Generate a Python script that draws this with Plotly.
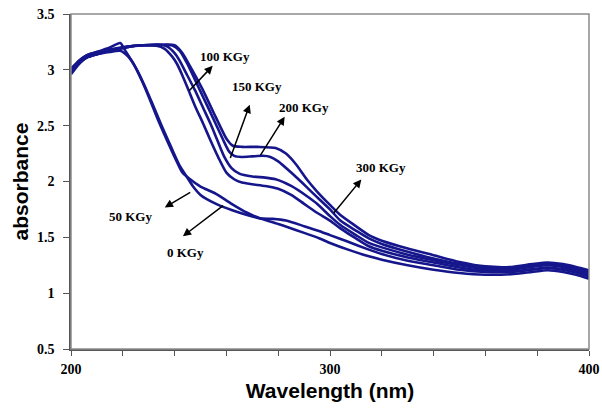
import plotly.graph_objects as go

# ---------------- data ----------------
wl_0 = [200, 203, 206, 210, 215, 219, 222, 225, 228, 231, 235, 239, 242, 244.5, 247, 250, 256, 262, 268, 273, 278, 283, 290, 296, 300, 307, 315, 320, 330, 340, 350, 360, 370, 378, 384, 390, 395, 400]
ab_0 = [2.98, 3.06, 3.11, 3.14, 3.16, 3.17, 3.12, 3.02, 2.88, 2.72, 2.50, 2.29, 2.14, 2.05, 1.96, 1.88, 1.80, 1.745, 1.70, 1.67, 1.665, 1.65, 1.60, 1.555, 1.52, 1.46, 1.39, 1.35, 1.29, 1.25, 1.21, 1.19, 1.19, 1.21, 1.225, 1.21, 1.185, 1.15]

wl_50 = [200, 203, 206, 210, 215, 219, 221, 224, 227, 230, 234, 238, 241, 243, 246, 250, 256, 262, 268, 273, 280, 290, 296, 300, 307, 315, 320, 330, 340, 350, 360, 370, 378, 384, 390, 395, 400]
ab_50 = [3.00, 3.08, 3.13, 3.16, 3.20, 3.24, 3.17, 3.06, 2.92, 2.76, 2.53, 2.32, 2.17, 2.08, 2.02, 1.955, 1.89, 1.80, 1.72, 1.67, 1.62, 1.54, 1.49, 1.45, 1.39, 1.33, 1.30, 1.25, 1.21, 1.18, 1.165, 1.17, 1.19, 1.205, 1.19, 1.165, 1.13]

wl_100 = [200, 203, 206, 210, 215, 219, 223, 228, 233, 236, 239, 241, 243, 245, 248, 251, 254, 257, 260, 263, 266, 270, 275, 280, 285, 290, 295, 300, 304, 310, 315, 320, 330, 340, 350, 360, 370, 378, 384, 390, 395, 400]
ab_100 = [2.96, 3.05, 3.11, 3.14, 3.17, 3.19, 3.21, 3.22, 3.215, 3.19, 3.12, 3.05, 2.95, 2.84, 2.67, 2.52, 2.36, 2.21, 2.08, 2.02, 1.99, 1.975, 1.96, 1.935, 1.88, 1.80, 1.72, 1.65, 1.58, 1.49, 1.42, 1.38, 1.32, 1.275, 1.23, 1.20, 1.195, 1.215, 1.23, 1.215, 1.195, 1.155]

wl_150 = [200, 203, 206, 210, 215, 219, 223, 228, 234, 237, 240, 242, 244, 247.8, 251, 254, 256.3, 259, 262, 265, 270, 275, 279, 285, 291, 295, 300, 304, 310, 315, 320, 330, 340, 350, 360, 370, 378, 384, 390, 395, 400]
ab_150 = [2.97, 3.06, 3.11, 3.14, 3.17, 3.19, 3.21, 3.22, 3.225, 3.21, 3.15, 3.08, 2.99, 2.82, 2.66, 2.51, 2.38, 2.23, 2.12, 2.07, 2.045, 2.035, 2.02, 1.96, 1.87, 1.80, 1.69, 1.61, 1.52, 1.45, 1.41, 1.345, 1.295, 1.25, 1.215, 1.21, 1.235, 1.25, 1.235, 1.21, 1.175]

wl_200 = [200, 203, 206, 210, 215, 219, 223, 228, 235, 239, 242, 245, 249.7, 254, 258.6, 261, 263, 266, 270, 274, 277, 280, 285, 291, 295, 300, 304, 310, 315, 320, 330, 340, 350, 360, 370, 378, 384, 390, 395, 400]
ab_200 = [2.99, 3.07, 3.12, 3.15, 3.18, 3.19, 3.21, 3.22, 3.225, 3.22, 3.17, 3.05, 2.82, 2.61, 2.38, 2.27, 2.23, 2.22, 2.225, 2.23, 2.22, 2.18, 2.08, 1.95, 1.86, 1.75, 1.65, 1.56, 1.49, 1.44, 1.37, 1.31, 1.26, 1.225, 1.22, 1.25, 1.26, 1.245, 1.22, 1.19]

wl_300 = [200, 203, 206, 210, 215, 219, 223, 228, 235, 240, 243, 246, 250.9, 255, 260.1, 262.5, 266, 272, 279, 283, 287, 291, 295, 300, 304, 310, 315, 320, 330, 340, 350, 360, 370, 378, 384, 390, 395, 400]
ab_300 = [3.01, 3.08, 3.13, 3.16, 3.18, 3.20, 3.21, 3.22, 3.225, 3.22, 3.15, 3.03, 2.82, 2.62, 2.38, 2.32, 2.31, 2.31, 2.30, 2.25, 2.15, 2.02, 1.91, 1.79, 1.70, 1.60, 1.52, 1.47, 1.40, 1.34, 1.28, 1.24, 1.235, 1.26, 1.275, 1.26, 1.235, 1.205]

series = [
    ("0 KGy", wl_0, ab_0),
    ("50 KGy", wl_50, ab_50),
    ("100 KGy", wl_100, ab_100),
    ("150 KGy", wl_150, ab_150),
    ("200 KGy", wl_200, ab_200),
    ("300 KGy", wl_300, ab_300),
]

x_ticks = [200, 300, 400]
y_ticks = [0.5, 1, 1.5, 2, 2.5, 3, 3.5]

# label text positions (data units) and arrows: (tail_x, tail_y) on curve -> (head_x, head_y)
label_names = ["100 KGy", "150 KGy", "200 KGy", "300 KGy", "50 KGy", "0 KGy"]
label_x = [259.3, 271.7, 290.0, 319.7, 223.1, 244.3]
label_y = [3.116, 2.85, 2.66, 2.125, 1.6875, 1.366]
arrow_tail_x = [245.1, 261.3, 272.8, 301.0, 246.6, 259.3]
arrow_tail_y = [2.80, 2.196, 2.223, 1.705, 1.911, 1.795]
arrow_head_x = [254.7, 269.0, 282.5, 312.1, 236.2, 243.2]
arrow_head_y = [3.036, 2.6875, 2.58, 2.018, 1.768, 1.509]

LINE_COLOR = "#16168c"
SERIF = "Liberation Serif"

fig = go.Figure()
for name, xs, ys in series:
    fig.add_trace(go.Scatter(
        x=xs, y=ys, mode="lines", name=name,
        line=dict(color=LINE_COLOR, width=2.6, shape="spline", smoothing=0.6),
        showlegend=False, hoverinfo="skip",
    ))

annotations = []
for tx, ty, hx, hy in zip(arrow_tail_x, arrow_tail_y, arrow_head_x, arrow_head_y):
    annotations.append(dict(
        x=hx, y=hy, ax=tx, ay=ty, xref="x", yref="y", axref="x", ayref="y",
        text="", showarrow=True, arrowhead=2, arrowsize=1.1, arrowwidth=1.5,
        arrowcolor="black", standoff=0, startstandoff=0,
    ))
for name, lx, ly in zip(label_names, label_x, label_y):
    annotations.append(dict(
        x=lx, y=ly, xref="x", yref="y", text=name, showarrow=False,
        font=dict(family=SERIF, size=13, color="black", weight="bold"),
    ))

fig.update_layout(
    width=602, height=409,
    margin=dict(l=71, r=13, t=14, b=60, autoexpand=False),
    paper_bgcolor="white", plot_bgcolor="white",
    annotations=annotations,
    shapes=[dict(type="rect", xref="paper", yref="paper", x0=0, y0=0, x1=1, y1=1,
                 line=dict(color="#8c8c8c", width=1.5), layer="above")],
    xaxis=dict(
        range=[200, 400], tickvals=x_ticks, ticktext=[str(v) for v in x_ticks],
        ticks="outside", ticklen=5, tickcolor="#555555", automargin=False,
        minor=dict(dtick=20, ticks="outside", ticklen=5, tickcolor="#555555"),
        showline=True, linecolor="#555555", linewidth=1.5, showgrid=False, zeroline=False,
        tickfont=dict(family=SERIF, size=14, color="black", weight="bold"),
        ticklabelstandoff=1,
        title=dict(text="Wavelength (nm)", standoff=8,
                   font=dict(family="Liberation Sans", size=21, color="black", weight="bold")),
    ),
    yaxis=dict(
        range=[0.5, 3.5], tickvals=y_ticks, ticktext=["0.5", "1", "1.5", "2", "2.5", "3", "3.5"],
        ticks="outside", ticklen=6, tickcolor="#555555", automargin=False,
        showline=True, linecolor="#555555", linewidth=1.5, showgrid=False, zeroline=False,
        tickfont=dict(family=SERIF, size=14, color="black", weight="bold"),
        ticklabelstandoff=6,
        title=dict(text="absorbance", standoff=3,
                   font=dict(family="Liberation Sans", size=21, color="black", weight="bold")),
    ),
)

fig.write_html("out.html", config={"displayModeBar": False},
               post_script="document.body.style.margin='0';document.body.style.overflow='hidden';")
